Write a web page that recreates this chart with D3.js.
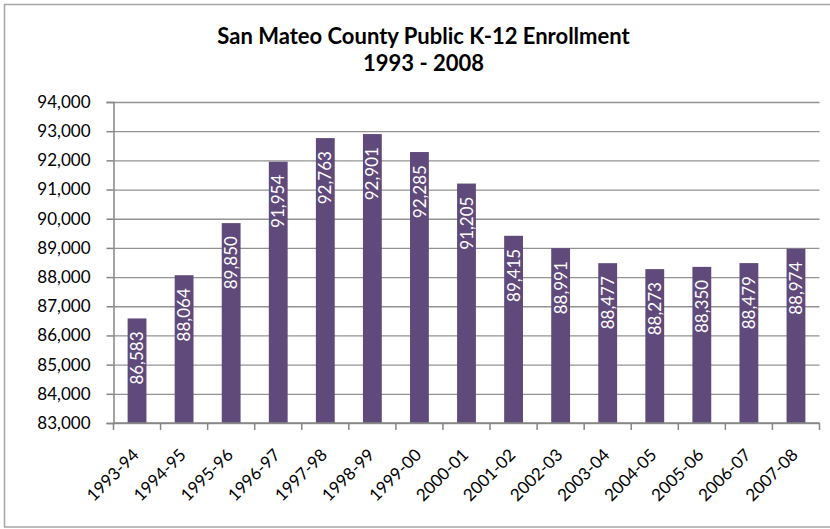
<!DOCTYPE html>
<html>
<head>
<meta charset="utf-8">
<script src="https://cdn.jsdelivr.net/npm/d3@7"></script>
<style>
  html, body { margin: 0; padding: 0; background: #fff; }
  svg { display: block; }
  text { font-family: Lato, "Open Sans", sans-serif; }
</style>
</head>
<body>
<svg id="chart" width="830" height="529"></svg>
<script>
// School years and enrollment totals
const years = ["1993-94","1994-95","1995-96","1996-97","1997-98","1998-99","1999-00",
               "2000-01","2001-02","2002-03","2003-04","2004-05","2005-06","2006-07","2007-08"];
const enrollment = [86583, 88064, 89850, 91954, 92763, 92901, 92285,
                    91205, 89415, 88991, 88477, 88273, 88350, 88479, 88974];
const yTicks = [83000, 84000, 85000, 86000, 87000, 88000, 89000, 90000, 91000, 92000, 93000, 94000];
const titleLines = ["San Mateo County Public K-12 Enrollment", "1993 - 2008"];

const svg = d3.select("#chart");
const plot = { left: 113.5, right: 819.5, top: 102, bottom: 423 };

// outer chart frame (right edge runs off the canvas)
svg.append("rect")
  .attr("x", 4.5).attr("y", 4.5)
  .attr("width", 840).attr("height", 522.5)
  .attr("fill", "none").attr("stroke", "#a6a6a6").attr("stroke-width", 1.5);

// title
svg.append("g").selectAll("text").data(titleLines).join("text")
  .attr("x", 423.5)
  .attr("y", (d, i) => 44 + i * 27)
  .attr("text-anchor", "middle")
  .attr("font-size", 22)
  .attr("font-weight", "bold")
  .attr("fill", "#000")
  .text(d => d);

const x = d3.scaleBand().domain(years).range([plot.left, plot.right]).padding(0);
const y = d3.scaleLinear().domain([83000, 94000]).range([plot.bottom, plot.top]);
const barW = x.bandwidth() * 0.4;

// horizontal gridlines
svg.append("g")
  .attr("transform", `translate(${plot.left},0)`)
  .call(d3.axisLeft(y).tickValues(yTicks).tickSize(-(plot.right - plot.left)).tickFormat(""))
  .call(g => g.select(".domain").remove())
  .call(g => g.selectAll("line").attr("stroke", "#939393").attr("stroke-width", 1.3));

// bars
svg.append("g").selectAll("rect").data(years).join("rect")
  .attr("x", d => x(d) + (x.bandwidth() - barW) / 2)
  .attr("y", (d, i) => y(enrollment[i]))
  .attr("width", barW)
  .attr("height", (d, i) => y(83000) - y(enrollment[i]))
  .attr("fill", "#5f4a7b");

// value labels inside the bars
svg.append("g").selectAll("text").data(years).join("text")
  .attr("transform", (d, i) => `translate(${x(d) + x.bandwidth() / 2},${y(enrollment[i]) + 13}) rotate(-90)`)
  .attr("text-anchor", "end")
  .attr("dy", "0.36em")
  .attr("font-size", 17)
  .attr("fill", "#fff")
  .text((d, i) => d3.format(",")(enrollment[i]));

// y axis
svg.append("g")
  .attr("transform", `translate(${plot.left},0)`)
  .call(d3.axisLeft(y).tickValues(yTicks).tickSize(7).tickPadding(16).tickFormat(d3.format(",")))
  .call(g => g.select(".domain").attr("stroke", "#868686").attr("stroke-width", 1.5))
  .call(g => g.selectAll(".tick line").attr("stroke", "#868686").attr("stroke-width", 1.5))
  .call(g => g.selectAll(".tick text").attr("font-size", 17).attr("fill", "#000")
                .attr("font-family", "Lato, 'Open Sans', sans-serif"));

// x axis: ticks sit on category boundaries
const xAxis = svg.append("g").attr("transform", `translate(0,${plot.bottom})`);
xAxis.call(d3.axisBottom(x).tickSize(0).tickFormat(""))
  .call(g => g.select(".domain").attr("stroke", "#868686").attr("stroke-width", 1.5).attr("d", `M${plot.left},0H${plot.right}`))
  .call(g => g.selectAll(".tick").remove());
xAxis.append("g").selectAll("line").data(years.map(d => x(d)).concat([plot.right])).join("line")
  .attr("x1", d => d).attr("x2", d => d)
  .attr("y1", 0).attr("y2", 7)
  .attr("stroke", "#868686").attr("stroke-width", 1.5);

// category labels, slanted
xAxis.append("g").selectAll("text").data(years).join("text")
  .attr("transform", d => `translate(${x(d) + x.bandwidth() / 2 + 3},33) rotate(-45)`)
  .attr("text-anchor", "end")
  .attr("font-size", 17)
  .attr("fill", "#000")
  .text(d => d);
</script>
</body>
</html>
